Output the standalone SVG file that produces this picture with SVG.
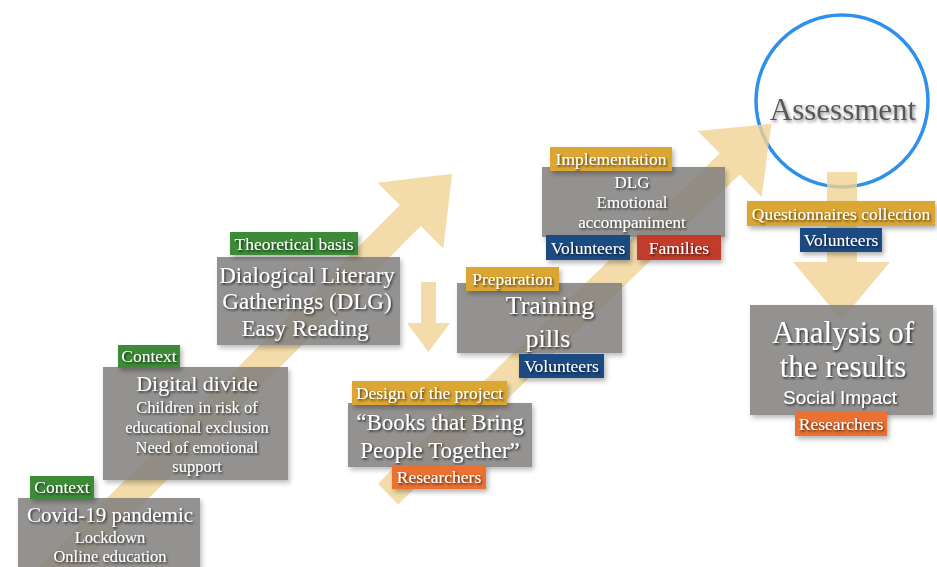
<svg xmlns="http://www.w3.org/2000/svg" width="937" height="567" viewBox="0 0 937 567">
<defs>
<filter id="ts" x="-10%" y="-30%" width="130%" height="170%">
<feDropShadow dx="1.2" dy="1.5" stdDeviation="0.9" flood-color="#000" flood-opacity="0.75"/>
</filter>
<filter id="bs" x="-10%" y="-10%" width="130%" height="140%">
<feDropShadow dx="2" dy="3" stdDeviation="2.5" flood-color="#000" flood-opacity="0.3"/>
</filter>
<filter id="ts2" x="-10%" y="-30%" width="130%" height="170%">
<feDropShadow dx="1.5" dy="2" stdDeviation="1.5" flood-color="#000" flood-opacity="0.45"/>
</filter>
</defs>
<style>
.box{fill:#82817f;opacity:0.86;filter:url(#bs)}
.lab{filter:url(#bs)}
.green{fill:#3d8b37}.gold{fill:#dba632}.navy{fill:#1b4c84}.red{fill:#c33b2c}.orange{fill:#ea7130}
text{font-family:"Liberation Serif","DejaVu Serif",serif;fill:#fff;text-anchor:middle;filter:url(#ts)}
.l{font-size:17.5px}
.s{font-size:16.5px}
.m{font-size:23px}
.arrow{fill:#f0d395;opacity:0.8}
</style>
<rect width="937" height="567" fill="#fff"/>

<g id="assessment">
<circle cx="842" cy="101" r="86" fill="none" stroke="#2e90ea" stroke-width="3.5"/>
<text x="843" y="120" style="font-size:31px;fill:#585858;filter:url(#ts2)">Assessment</text>
</g>

<g id="connectors">
<path class="arrow" transform="translate(30,596) rotate(-45)" d="M0,-14.8 H538 V-46.5 L597,0 L538,46.5 V14.8 H0 Z"/>
<path class="arrow" transform="translate(388,494) rotate(-44)" d="M0,-14.5 H475 V-46 L533,0 L475,46 V14.5 H0 Z"/>
<path class="arrow" d="M421,282 H436 V323 H450 L428.5,352 L407,323 H421 Z"/>
<path class="arrow" d="M827,172 H857 V262 H890 L841.5,320 L793,262 H827 Z"/>
</g>

<g id="covid">
<rect class="box" x="18" y="498" width="182" height="75"/>
<rect class="lab green" x="30" y="476" width="64" height="23"/>
<text class="l" x="62" y="493">Context</text>
<text x="110" y="522" style="font-size:21px">Covid-19 pandemic</text>
<text class="s" x="110" y="543">Lockdown</text>
<text class="s" x="110" y="562">Online education</text>
</g>

<g id="digital">
<rect class="box" x="103" y="367" width="185" height="113"/>
<rect class="lab green" x="118" y="345" width="62" height="23"/>
<text class="l" x="149" y="362">Context</text>
<text x="197" y="391" style="font-size:22px">Digital divide</text>
<text class="s" x="197" y="412.5">Children in risk of</text>
<text class="s" x="197" y="432.5">educational exclusion</text>
<text class="s" x="197" y="452.5">Need of emotional</text>
<text class="s" x="197" y="471.5">support</text>
</g>

<g id="dlg">
<rect class="box" x="217" y="257" width="183" height="88"/>
<rect class="lab green" x="230" y="232" width="128" height="23"/>
<text class="l" x="294" y="249.5">Theoretical basis</text>
<text class="m" x="307" y="282.5">Dialogical Literary</text>
<text class="m" x="307" y="308.5">Gatherings (DLG)</text>
<text class="m" x="305" y="335.5">Easy Reading</text>
</g>

<g id="design">
<rect class="box" x="348" y="403" width="184" height="64"/>
<rect class="lab gold" x="352" y="381" width="155" height="24"/>
<text class="l" x="429.5" y="399">Design of the project</text>
<text class="m" x="440" y="430">“Books that Bring</text>
<text class="m" x="440" y="458">People Together”</text>
<rect class="lab orange" x="392" y="465" width="94" height="24"/>
<text class="l" x="439" y="483">Researchers</text>
</g>

<g id="preparation">
<rect class="box" x="457" y="283" width="165" height="70"/>
<rect class="lab gold" x="466" y="267" width="93" height="24"/>
<text class="l" x="512.5" y="285">Preparation</text>
<text x="550" y="314" style="font-size:26px">Training</text>
<text x="548" y="347" style="font-size:26px">pills</text>
<rect class="lab navy" x="519" y="354" width="85" height="24"/>
<text class="l" x="561.5" y="372">Volunteers</text>
</g>

<g id="implementation">
<rect class="box" x="542" y="167" width="183" height="70"/>
<rect class="lab gold" x="550" y="147" width="122" height="24"/>
<text class="l" x="611" y="165">Implementation</text>
<text x="632" y="187.5" style="font-size:17px">DLG</text>
<text x="632" y="207.5" style="font-size:17px">Emotional</text>
<text x="632" y="227.5" style="font-size:17px">accompaniment</text>
<rect class="lab navy" x="546" y="235" width="84" height="25"/>
<text class="l" x="588" y="253.5">Volunteers</text>
<rect class="lab red" x="637" y="235" width="84" height="25"/>
<text class="l" x="679" y="253.5">Families</text>
</g>

<g id="questionnaires">
<rect class="lab gold" x="747" y="201" width="188" height="25"/>
<text class="l" x="841" y="219.5">Questionnaires collection</text>
<rect class="lab navy" x="800" y="228" width="82" height="24"/>
<text class="l" x="841" y="246">Volunteers</text>
</g>

<g id="analysis">
<rect class="box" x="750" y="305" width="183" height="110"/>
<text x="843" y="343" style="font-size:31px">Analysis of</text>
<text x="843" y="377" style="font-size:31px">the results</text>
<text x="840" y="404" style="font-size:19px;font-family:'Liberation Sans',sans-serif">Social Impact</text>
<rect class="lab orange" x="795" y="412" width="92" height="24"/>
<text class="l" x="841" y="430">Researchers</text>
</g>
</svg>
